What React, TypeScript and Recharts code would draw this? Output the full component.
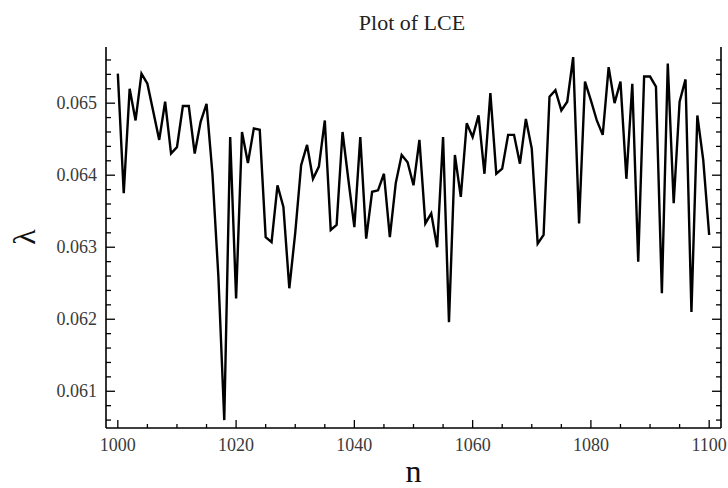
import { LineChart, Line, XAxis, YAxis } from "recharts";

const steps = [
  1000, 1001, 1002, 1003, 1004, 1005, 1006, 1007, 1008, 1009,
  1010, 1011, 1012, 1013, 1014, 1015, 1016, 1017, 1018, 1019,
  1020, 1021, 1022, 1023, 1024, 1025, 1026, 1027, 1028, 1029,
  1030, 1031, 1032, 1033, 1034, 1035, 1036, 1037, 1038, 1039,
  1040, 1041, 1042, 1043, 1044, 1045, 1046, 1047, 1048, 1049,
  1050, 1051, 1052, 1053, 1054, 1055, 1056, 1057, 1058, 1059,
  1060, 1061, 1062, 1063, 1064, 1065, 1066, 1067, 1068, 1069,
  1070, 1071, 1072, 1073, 1074, 1075, 1076, 1077, 1078, 1079,
  1080, 1081, 1082, 1083, 1084, 1085, 1086, 1087, 1088, 1089,
  1090, 1091, 1092, 1093, 1094, 1095, 1096, 1097, 1098, 1099,
  1100,
];

const lce = [
  0.06541, 0.06375, 0.0652, 0.06476, 0.06541, 0.06527, 0.06488, 0.06449, 0.06502, 0.0643,
  0.06439, 0.06496, 0.06496, 0.0643, 0.06474, 0.06499, 0.06402, 0.0626, 0.0606, 0.06453,
  0.06229, 0.0646, 0.06417, 0.06465, 0.06463, 0.06314, 0.06307, 0.06386, 0.06356, 0.06243,
  0.0632, 0.06414, 0.06442, 0.06395, 0.06412, 0.06476, 0.06324, 0.06331, 0.0646, 0.06393,
  0.06328, 0.06453, 0.06312, 0.06377, 0.06379, 0.06402, 0.06314, 0.06389, 0.06428, 0.06418,
  0.06386, 0.06449, 0.06333, 0.06347, 0.063, 0.06453, 0.06196, 0.06428, 0.0637, 0.06472,
  0.06453, 0.06483, 0.06402, 0.06514, 0.06402, 0.06409, 0.06456, 0.06456, 0.06416, 0.06478,
  0.06437, 0.06305, 0.06317, 0.06509, 0.06518, 0.0649, 0.06502, 0.06564, 0.06333, 0.0653,
  0.06504, 0.06476, 0.06456, 0.0655, 0.065, 0.0653, 0.06395, 0.06527, 0.0628, 0.06537,
  0.06537, 0.06523, 0.06236, 0.06555, 0.06361, 0.06502, 0.06533, 0.0621, 0.06483, 0.06421,
  0.06317,
];

const xTicks = [
  1000, 1005, 1010, 1015, 1020, 1025, 1030, 1035, 1040, 1045, 1050,
  1055, 1060, 1065, 1070, 1075, 1080, 1085, 1090, 1095, 1100,
];

const yTicks = [
  0.0606, 0.0608, 0.061, 0.0612, 0.0614, 0.0616, 0.0618, 0.062, 0.0622, 0.0624,
  0.0626, 0.0628, 0.063, 0.0632, 0.0634, 0.0636, 0.0638, 0.064, 0.0642, 0.0644,
  0.0646, 0.0648, 0.065, 0.0652, 0.0654, 0.0656,
];

const data = steps.map((n, i) => ({ n, lce: lce[i] }));

const FONT = '"Liberation Serif", "Times New Roman", serif';
const LABEL = "#3a3a3a";

const isMajorX = (v: number) => v % 20 === 0;
const isMajorY = (v: number) => Math.abs(v * 1000 - Math.round(v * 1000)) < 1e-6;

function BottomTick({ x, y, payload }: any) {
  const v = payload.value;
  const major = isMajorX(v);
  return (
    <g>
      <line x1={x} y1={y} x2={x} y2={y - (major ? 8 : 4)} stroke="#000" strokeWidth={1.3} />
      {major && (
        <text x={x} y={y + 23} textAnchor="middle" fontFamily={FONT} fontSize={18} fill={LABEL}>
          {v}
        </text>
      )}
    </g>
  );
}

function TopTick({ x, y, payload }: any) {
  const major = isMajorX(payload.value);
  return <line x1={x} y1={y} x2={x} y2={y + (major ? 8 : 4)} stroke="#000" strokeWidth={1.3} />;
}

function LeftTick({ x, y, payload }: any) {
  const v = payload.value;
  const major = isMajorY(v);
  return (
    <g>
      <line x1={x} y1={y} x2={x + (major ? 9 : 5)} y2={y} stroke="#000" strokeWidth={1.3} />
      {major && (
        <text x={x - 9} y={y + 6} textAnchor="end" fontFamily={FONT} fontSize={18} fill={LABEL}>
          {v.toFixed(3)}
        </text>
      )}
    </g>
  );
}

function RightTick({ x, y, payload }: any) {
  const major = isMajorY(payload.value);
  return <line x1={x} y1={y} x2={x - (major ? 9 : 5)} y2={y} stroke="#000" strokeWidth={1.3} />;
}

const frame = { stroke: "#000", strokeWidth: 1.6 };

export default function App() {
  return (
    <div style={{ position: "absolute", left: 0, top: 0, width: 728, height: 488, background: "#fff" }}>
      <LineChart
        width={728}
        height={488}
        data={data}
        margin={{ top: 47, right: 0, bottom: 0, left: 0 }}
      >
        <XAxis
          dataKey="n"
          type="number"
          domain={[998, 1102]}
          ticks={xTicks}
          interval={0}
          height={60}
          tickSize={0}
          tickMargin={0}
          tickLine={false}
          axisLine={frame}
          tick={<BottomTick />}
        />
        <XAxis
          xAxisId="top"
          dataKey="n"
          type="number"
          orientation="top"
          domain={[998, 1102]}
          ticks={xTicks}
          interval={0}
          height={0}
          tickSize={0}
          tickMargin={0}
          tickLine={false}
          axisLine={frame}
          tick={<TopTick />}
        />
        <YAxis
          type="number"
          domain={[0.06049, 0.06578]}
          allowDataOverflow
          ticks={yTicks}
          interval={0}
          width={106}
          tickSize={0}
          tickMargin={0}
          tickLine={false}
          axisLine={frame}
          tick={<LeftTick />}
        />
        <YAxis
          yAxisId="right"
          orientation="right"
          type="number"
          domain={[0.06049, 0.06578]}
          allowDataOverflow
          ticks={yTicks}
          interval={0}
          width={7}
          tickSize={0}
          tickMargin={0}
          tickLine={false}
          axisLine={frame}
          tick={<RightTick />}
        />
        <Line
          type="linear"
          dataKey="lce"
          stroke="#000"
          strokeWidth={2.4}
          dot={false}
          activeDot={false}
          isAnimationActive={false}
        />
        <Line
          xAxisId="top"
          yAxisId="right"
          type="linear"
          dataKey="lce"
          stroke="none"
          dot={false}
          activeDot={false}
          isAnimationActive={false}
        />
      </LineChart>
      <div
        style={{
          position: "absolute",
          left: 0,
          width: 824,
          top: 9,
          textAlign: "center",
          fontFamily: FONT,
          fontSize: 22,
          lineHeight: "28px",
          color: "#222",
        }}
      >
        Plot of LCE
      </div>
      <div
        style={{
          position: "absolute",
          left: 0,
          width: 827,
          top: 455,
          textAlign: "center",
          fontFamily: FONT,
          fontSize: 32,
          color: "#111",
          lineHeight: "32px",
        }}
      >
        n
      </div>
      <div
        style={{
          position: "absolute",
          left: 6,
          top: 219,
          width: 36,
          height: 36,
          fontFamily: FONT,
          fontSize: 32,
          lineHeight: "36px",
          color: "#111",
          transform: "rotate(-90deg)",
          textAlign: "center",
        }}
      >
        λ
      </div>
    </div>
  );
}
